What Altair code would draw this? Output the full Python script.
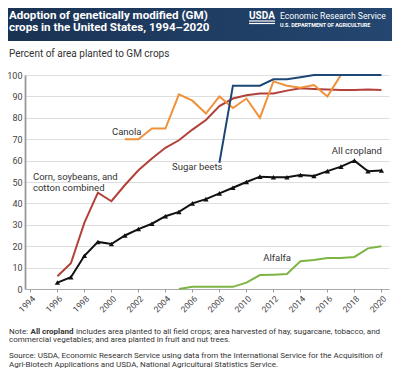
import altair as alt
import pandas as pd

# ---------------- data ----------------
years_all = list(range(1996, 2021))
all_cropland = [3, 5.5, 15.5, 22, 21, 25, 28, 30.5, 34, 36, 40, 42, 44.7, 47.3, 50,
                52.5, 52.2, 52.2, 53.3, 52.8, 55.1, 57.2, 60, 55, 55.4]

years_corn = list(range(1996, 2021))
corn_soy_cotton = [6, 12, 31, 45, 41, 48.6, 55.5, 61, 66, 69.5, 74.5, 79, 85.5, 89, 90.5,
                   91.4, 91.4, 92.7, 93.8, 93.5, 93.2, 93, 93, 93.2, 93]

years_canola = list(range(2001, 2018))
canola = [70, 70, 75, 75, 91, 88, 82, 90, 84.6, 89, 80, 97, 95, 94, 95.3, 90, 100]

years_beets = list(range(2008, 2021))
sugar_beets = [59, 95, 95, 95, 98, 98, 99, 100, 100, 100, 100, 100, 100]

years_alfalfa = list(range(2005, 2021))
alfalfa = [0, 1, 1, 1, 1, 3, 6.5, 6.7, 7, 13, 13.5, 14.5, 14.5, 15, 19, 20]

x_ticks = list(range(1994, 2021, 2))
y_ticks = list(range(0, 101, 10))

# series annotations: text, year, value, alignment
label_text = ["Canola", "Corn, soybeans, and", "cotton combined", "Sugar beets",
              "All cropland", "Alfalfa"]
label_year = [2000.04, 1994.19, 1994.19, 2004.49, 2020.04, 2012.27]
label_value = [73.2, 52.3, 47.2, 57.0, 64.5, 14.5]
label_align = ["left", "left", "left", "left", "right", "center"]

C_CORN = "#b2413a"
C_CANOLA = "#f0913a"
C_BEETS = "#1d4776"
C_ALL = "#111111"
C_ALFALFA = "#7db544"
FONT = "Roboto"

# ---------------- scales / axes ----------------
xscale = alt.Scale(domain=[1993.6, 2020.56], nice=False, zero=False)
yscale = alt.Scale(domain=[0, 100], nice=False)
xaxis = alt.Axis(values=x_ticks, format="d", title=None, labelAngle=-45,
                 labelFontSize=8.5, labelColor="#444", labelFont=FONT,
                 ticks=True, tickSize=3, tickColor="#999", domainColor="#aaa",
                 domainWidth=1, grid=False, labelPadding=2)
yaxis = alt.Axis(values=y_ticks, title=None, labelFontSize=9, labelColor="#444",
                 labelFont=FONT, ticks=False, labelPadding=3, domainColor="#999",
                 domainWidth=1.8, grid=True, gridColor="#dedede", gridWidth=1)


def series(years, vals, color, width=2.0, point=False):
    df = pd.DataFrame({"year": years, "value": vals})
    mk = alt.Chart(df).mark_line(color=color, strokeWidth=width, strokeJoin="miter")
    if point:
        mk = alt.Chart(df).mark_line(
            color=color, strokeWidth=width,
            point=alt.OverlayMarkDef(shape="triangle-up", size=28, filled=True,
                                     color=color, opacity=1))
    return mk.encode(x=alt.X("year:Q", scale=xscale, axis=xaxis),
                     y=alt.Y("value:Q", scale=yscale, axis=yaxis))


layers = [
    series(years_corn, corn_soy_cotton, C_CORN),
    series(years_canola, canola, C_CANOLA),
    series(years_beets, sugar_beets, C_BEETS),
    series(years_all, all_cropland, C_ALL, point=True),
    series(years_alfalfa, alfalfa, C_ALFALFA),
]

lab_df = pd.DataFrame({"t": label_text, "year": label_year, "value": label_value,
                       "align": label_align})
for al in ["left", "right", "center"]:
    layers.append(
        alt.Chart(lab_df[lab_df["align"] == al]).mark_text(
            align=al, baseline="middle", font=FONT, fontSize=9.5, color="#333"
        ).encode(x=alt.X("year:Q", scale=xscale, axis=xaxis),
                 y=alt.Y("value:Q", scale=yscale, axis=yaxis), text="t:N")
    )

# ---------------- decorations (header + notes) ----------------
one = pd.DataFrame({"a": [0]})

band = alt.Chart(one).mark_rect(
    color=alt.Gradient(gradient="linear", x1=0, x2=1, y1=0, y2=0,
                       stops=[alt.GradientStop(color="#1a3253", offset=0),
                              alt.GradientStop(color="#244771", offset=1)])
).encode(x=alt.value(-25), x2=alt.value(380), y=alt.value(-80), y2=alt.value(-34))
layers.insert(0, band)


def txt(s, x, y, size, color="#333", weight="normal", align="left"):
    return alt.Chart(one).mark_text(
        text=s, align=align, baseline="alphabetic", font=FONT, fontSize=size,
        fontWeight=weight, color=color
    ).encode(x=alt.value(x), y=alt.value(y))


NOTE = 8
layers += [
    txt("Adoption of genetically modified (GM)", -16, -56.5, 11.6, "white", "bold"),
    txt("crops in the United States, 1994\u20132020", -16, -44, 11.6, "white", "bold"),
    txt("USDA", 224, -56.5, 10, "white", "bold"),
    txt("Economic Research Service", 255, -56, 8.6, "white"),
    txt("U.S. DEPARTMENT OF AGRICULTURE", 255, -48.5, 5.4, "white", "bold"),
    txt("Percent of area planted to GM crops", -16, -18, 10, "#333"),
    txt("Note:", -16, 258.5, NOTE),
    txt("All cropland", 5.5, 258.5, NOTE, weight="bold"),
    txt("includes area planted to all field crops; area harvested of hay, sugarcane, tobacco, and",
        51, 258.5, NOTE),
    txt("commercial vegetables; and area planted in fruit and nut trees.", -16, 267, NOTE),
    txt("Source: USDA, Economic Research Service using data from the International Service for the Acquisition of",
        -16, 283, NOTE),
    txt("Agri-Biotech Applications and USDA, National Agricultural Statistics Service.",
        -16, 291.5, NOTE),
]

logo_line = alt.Chart(one).mark_rule(color="white", strokeWidth=1.2).encode(
    x=alt.value(224), x2=alt.value(250), y=alt.value(-54))
logo_line2 = alt.Chart(one).mark_rule(color="white", strokeWidth=1.2).encode(
    x=alt.value(224), x2=alt.value(250), y=alt.value(-51.5))
layers += [logo_line, logo_line2]

chart = alt.layer(*layers).properties(
    width=364, height=214,
    padding={"left": 17, "top": 67, "right": 3, "bottom": 80},
    autosize=alt.AutoSizeParams(type="none"),
    background="white",
).configure_view(stroke=None)

chart.save("out.html", embed_options={"renderer": "svg", "actions": False})
